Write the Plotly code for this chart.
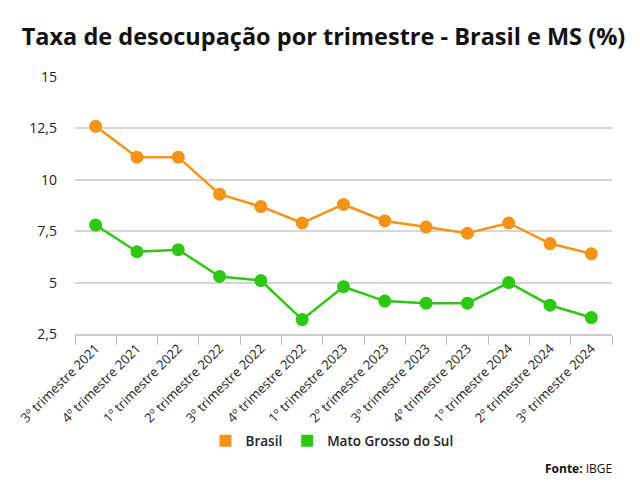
import plotly.graph_objects as go

categories = [
    "3º trimestre 2021", "4º trimestre 2021", "1º trimestre 2022", "2º trimestre 2022",
    "3º trimestre 2022", "4º trimestre 2022", "1º trimestre 2023", "2º trimestre 2023",
    "3º trimestre 2023", "4º trimestre 2023", "1º trimestre 2024", "2º trimestre 2024",
    "3º trimestre 2024",
]
brasil = [12.6, 11.1, 11.1, 9.3, 8.7, 7.9, 8.8, 8.0, 7.7, 7.4, 7.9, 6.9, 6.4]
ms = [7.8, 6.5, 6.6, 5.3, 5.1, 3.2, 4.8, 4.1, 4.0, 4.0, 5.0, 3.9, 3.3]
ytick_vals = [2.5, 5, 7.5, 10, 12.5, 15]
ytick_text = ["2,5", "5", "7,5", "10", "12,5", "15"]

ORANGE = "#F39419"
GREEN = "#2EC714"
FONT = "'Open Sans', sans-serif"

# The page body has an 8px default margin; the figure is sized to fit the window.
W, H = 624, 476

fig = go.Figure()
for name, vals, col in [("Brasil", brasil, ORANGE), ("Mato Grosso do Sul", ms, GREEN)]:
    fig.add_trace(go.Scatter(
        x=categories, y=vals, mode="lines+markers", name=name,
        line=dict(color=col, width=2.5), marker=dict(color=col, size=13),
        showlegend=False,
    ))
    fig.add_trace(go.Bar(x=[categories[0]], y=[0], name=name, marker_color=col,
                         marker_line_width=0, showlegend=True, hoverinfo="skip"))

fig.update_layout(
    width=W, height=H,
    margin=dict(l=67, r=20, t=69, b=150, autoexpand=False),
    paper_bgcolor="white", plot_bgcolor="white",
    font=dict(family=FONT, color="#222", size=12),
    title=dict(text="<b>Taxa de desocupação por trimestre - Brasil e MS (%)</b>",
               x=315.5 / W, xanchor="center", yref="container", y=1 - 29 / H, yanchor="middle",
               font=dict(size=23.5, color="#111")),
    showlegend=True,
    legend=dict(orientation="h", x=324 / W, xanchor="center", xref="container",
                yref="container", y=1 - 433 / H, yanchor="middle",
                font=dict(size=13.5, color="#222", weight=600), itemwidth=30,
                traceorder="normal"),
    xaxis=dict(type="category", range=[-0.5, 12.5], tickangle=-45, showgrid=False,
               showline=True, linecolor="#ccc", linewidth=1.5, ticks="outside",
               tickson="boundaries", ticklen=9, tickcolor="#bbb",
               tickfont=dict(size=13, color="#222"), automargin=False),
    yaxis=dict(range=[2.5, 15], tickvals=ytick_vals, ticktext=ytick_text,
               showgrid=True, gridcolor="#d6d6d6", gridwidth=1.5, zeroline=False,
               showline=False, ticks="", tickfont=dict(size=14, color="#222"),
               ticklabelstandoff=17, automargin=False),
    annotations=[dict(text="<b>Fonte:</b> IBGE", xref="paper", yref="paper",
                      x=1.004, y=-(468 - 334) / 257, xanchor="right", yanchor="middle",
                      showarrow=False, font=dict(size=12, color="#111"))],
)

fig.write_html("out.html")
